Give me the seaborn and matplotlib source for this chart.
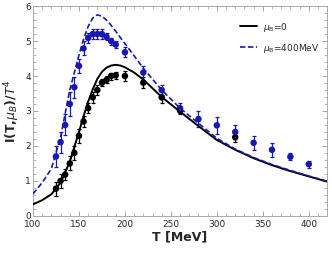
import numpy as np
import pandas as pd
import matplotlib
matplotlib.use("Agg")
import matplotlib.pyplot as plt
import seaborn as sns
from matplotlib.ticker import MultipleLocator

# model curves
curve_T = [100, 110, 120, 130, 140, 150, 155, 160, 165, 170, 175, 180, 185, 190, 195,
           200, 210, 220, 240, 260, 280, 300, 320, 340, 360, 380, 400, 420]
curve_mu0 = [0.33, 0.45, 0.62, 0.95, 1.55, 2.40, 2.85, 3.27, 3.62, 3.92, 4.12, 4.24, 4.30, 4.32, 4.30,
             4.25, 4.10, 3.90, 3.40, 2.98, 2.57, 2.17, 1.89, 1.65, 1.45, 1.28, 1.13, 0.98]
curve_mu400 = [0.63, 0.95, 1.35, 2.25, 3.60, 4.60, 5.05, 5.42, 5.66, 5.75, 5.71, 5.60, 5.45, 5.28, 5.10,
               4.93, 4.58, 4.22, 3.60, 3.08, 2.65, 2.22, 1.91, 1.67, 1.47, 1.30, 1.14, 0.99]

# lattice points, mu_B = 0
pts0_T = [125, 130, 135, 140, 145, 150, 155, 160, 165, 170, 175, 180, 185, 190, 200, 220, 240, 260, 320]
pts0_I = [0.78, 1.00, 1.18, 1.50, 1.80, 2.29, 2.70, 3.08, 3.39, 3.60, 3.81, 3.89, 4.00, 4.02, 4.00, 3.81, 3.39, 3.01, 2.25]
pts0_err = [0.20, 0.20, 0.15, 0.20, 0.20, 0.20, 0.15, 0.15, 0.15, 0.15, 0.10, 0.10, 0.10, 0.10, 0.15, 0.15, 0.15, 0.10, 0.15]

# lattice points, mu_B = 400 MeV
pts4_T = [125, 130, 135, 140, 145, 150, 155, 160, 165, 170, 175, 180, 185, 190, 200, 220, 240, 260, 280, 300, 320, 340, 360, 380, 400]
pts4_I = [1.70, 2.11, 2.60, 3.20, 3.68, 4.29, 4.79, 5.09, 5.20, 5.20, 5.20, 5.12, 5.00, 4.90, 4.68, 4.10, 3.60, 3.08, 2.77, 2.59, 2.40, 2.09, 1.89, 1.69, 1.48]
pts4_err = [0.30, 0.30, 0.30, 0.35, 0.30, 0.20, 0.20, 0.15, 0.15, 0.15, 0.15, 0.10, 0.10, 0.10, 0.15, 0.20, 0.15, 0.15, 0.22, 0.25, 0.20, 0.20, 0.20, 0.10, 0.10]

BLUE = "#1818b0"

sns.set_theme(style="ticks")
plt.rcParams["font.family"] = ["DejaVu Sans"]

fig = plt.figure(figsize=(3.32, 2.54), dpi=100)
ax = fig.add_axes([0.0994, 0.150, 0.886, 0.826])

curves = pd.DataFrame({"T": curve_T, "mu0": curve_mu0, "mu400": curve_mu400})

ax.errorbar(pts0_T, pts0_I, yerr=pts0_err, fmt="none", ecolor="black", elinewidth=0.9, capsize=1.6, capthick=0.9, zorder=3)
ax.errorbar(pts4_T, pts4_I, yerr=pts4_err, fmt="none", ecolor=BLUE, elinewidth=0.9, capsize=1.6, capthick=0.9, zorder=3)
sns.scatterplot(x=pts0_T, y=pts0_I, color="black", s=22, edgecolor="none", ax=ax, zorder=4)
sns.scatterplot(x=pts4_T, y=pts4_I, color=BLUE, s=22, edgecolor="none", ax=ax, zorder=4)

sns.lineplot(data=curves, x="T", y="mu0", color="black", lw=1.4, ax=ax, label=r"$\mu_{\rm B}$=0", zorder=5)
sns.lineplot(data=curves, x="T", y="mu400", color=BLUE, lw=1.2, ax=ax, label=r"$\mu_{\rm B}$=400MeV", zorder=5)
ax.lines[-1].set_dashes([3.2, 1.6])

ax.set_xlim(100, 420)
ax.set_ylim(0, 6)
ax.xaxis.set_major_locator(MultipleLocator(50))
ax.xaxis.set_minor_locator(MultipleLocator(10))
ax.yaxis.set_major_locator(MultipleLocator(1))
ax.yaxis.set_minor_locator(MultipleLocator(0.2))
ax.tick_params(which="both", direction="in", top=True, right=True, color="#999999", labelsize=6.5)
ax.tick_params(axis="x", pad=3)
ax.tick_params(axis="y", pad=1.5)
ax.tick_params(which="major", length=3.5, width=0.6)
ax.tick_params(which="minor", length=2, width=0.5)
for sp in ax.spines.values():
    sp.set_color("#aaaaaa")
    sp.set_linewidth(0.7)

ax.set_xlabel("T [MeV]", fontsize=9, fontweight="bold", labelpad=1)
ax.set_ylabel(r"I(T,$\mu_B$)/$T^4$", fontsize=9, fontweight="bold", labelpad=2)

leg = ax.legend(loc="upper right", bbox_to_anchor=(1.0, 0.97), frameon=False, fontsize=6.5,
                handlelength=1.9, handletextpad=0.6, labelspacing=0.9)

fig.savefig("out.png", dpi=100)
